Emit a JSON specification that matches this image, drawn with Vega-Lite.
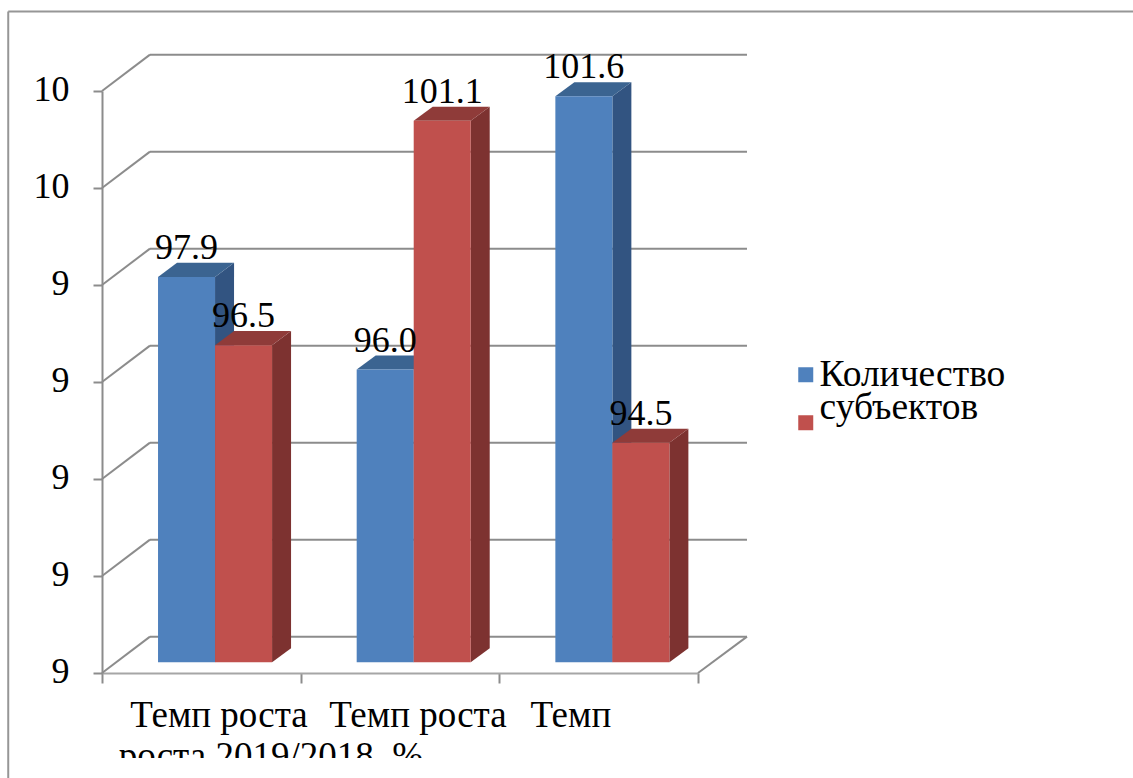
{
"$schema":"https://vega.github.io/schema/vega-lite/v6.json",
"width":596,"height":582,
"autosize":"none",
"padding":{"left":102,"top":91,"right":435,"bottom":105},
"background":"white",
"config":{"view":{"stroke":null},"axis":{"title":null,"grid":false}},
"datasets":{
"bars":[
{"category":0,"series":"Количество","value":97.9},
{"category":0,"series":"субъектов","value":96.5},
{"category":1,"series":"Количество","value":96.0},
{"category":1,"series":"субъектов","value":101.1},
{"category":2,"series":"Количество","value":101.6},
{"category":2,"series":"субъектов","value":94.5}
],
"ticks":[{"v":90},{"v":92},{"v":94},{"v":96},{"v":98},{"v":100},{"v":102}],
"cats":[
{"pos":0.589,"line":1,"label":"Темп роста"},
{"pos":1.59,"line":1,"label":"Темп роста"},
{"pos":2.36,"line":1,"label":"Темп"},
{"pos":0.85,"line":2,"label":"роста 2019/2018, %"}
]
},
"layer":[
{"data":{"values":[{}]},"mark":{"type":"rule","stroke":"#969696","strokeWidth":2},
 "encoding":{
 "x":{"datum":-0.472,"type":"quantitative","scale":{"domain":[0,3],"nice":false,"zero":false},
  "axis":{"values":[0,1,2,3],"title":null,"grid":false,"labels":false,"tickSize":10,"tickColor":"#8c8c8c","tickWidth":2,"domainColor":"#a6a6a6","domainWidth":2}},
 "y":{"datum":103.64,"type":"quantitative","scale":{"domain":[90,102],"nice":false,"zero":false},
  "axis":{"values":[90,92,94,96,98,100,102],"title":null,"grid":false,"labelExpr":"floor(datum.value/10)","labelFont":"Liberation Serif","labelFontSize":36,"labelColor":"black","labelPadding":24,"labelOffset":-2,"tickSize":9,"tickColor":"#8c8c8c","tickWidth":2,"domainColor":"#8c8c8c","domainWidth":2,"labelOverlap":false,"labelBound":false,"labelFlush":false}},
 "y2":{"datum":87.6}}},
{"data":{"values":[{}]},"mark":{"type":"rule","stroke":"#969696","strokeWidth":2},
 "encoding":{
 "x":{"datum":-0.472,"type":"quantitative"},
 "x2":{"datum":5.2},
 "y":{"datum":103.64,"type":"quantitative"}}},
{"data":{"name":"ticks"},"transform":[{"calculate":"datum.v+0.75","as":"vb"},{"calculate":"0.2416","as":"x0"},{"calculate":"3.2466","as":"x1"}],
 "mark":{"type":"rule","stroke":"#8c8c8c","strokeWidth":2},
 "encoding":{"x":{"field":"x0","type":"quantitative"},"x2":{"field":"x1"},"y":{"field":"vb","type":"quantitative"}}},
{"data":{"name":"ticks"},"transform":[{"calculate":"datum.v+0.75","as":"vb"},{"calculate":"0","as":"x0"},{"calculate":"0.2416","as":"x1"}],
 "mark":{"type":"rule","stroke":"#8c8c8c","strokeWidth":2},
 "encoding":{"x":{"field":"x0","type":"quantitative"},"x2":{"field":"x1"},"y":{"field":"v","type":"quantitative"},"y2":{"field":"vb"}}},
{"data":{"values":[{"a":3,"b":3.2466,"c":90,"d":90.75}]},
 "mark":{"type":"rule","stroke":"#8c8c8c","strokeWidth":2},
 "encoding":{"x":{"field":"a","type":"quantitative"},"x2":{"field":"b"},"y":{"field":"c","type":"quantitative"},"y2":{"field":"d"}}},
{"data":{"name":"bars"},
 "transform":[
 {"calculate":"[0,1]","as":"p"},{"flatten":["p"]},
 {"calculate":"datum.category+0.282+(datum.series=='субъектов'?0.287:0)+0.287+datum.p*0.0956","as":"xs"},
 {"calculate":"90.22+datum.p*0.29","as":"ybase"},
 {"calculate":"90.22+(datum.value-90)*1.006+datum.p*0.29","as":"ytop"},
 {"calculate":"datum.category+datum.series","as":"id"}],
 "mark":{"type":"area","orient":"vertical"},
 "encoding":{
 "x":{"field":"xs","type":"quantitative"},
 "y":{"field":"ytop","type":"quantitative","stack":null},
 "y2":{"field":"ybase"},
 "detail":{"field":"id"},
 "fill":{"condition":{"test":"datum.series=='Количество'","value":"#325481"},"value":"#7d3230"}}},
{"data":{"name":"bars"},
 "transform":[
 {"calculate":"[0,1]","as":"p"},{"flatten":["p"]},
 {"calculate":"datum.category+0.282+(datum.series=='субъектов'?0.287:0)+datum.p*0.0956","as":"x1"},
 {"calculate":"datum.x1+0.287","as":"x2"},
 {"calculate":"90.22+(datum.value-90)*1.006+datum.p*0.29","as":"ytop"},
 {"calculate":"datum.category+datum.series","as":"id"}],
 "mark":{"type":"area","orient":"horizontal"},
 "encoding":{
 "y":{"field":"ytop","type":"quantitative"},
 "x":{"field":"x1","type":"quantitative","stack":null},
 "x2":{"field":"x2"},
 "detail":{"field":"id"},
 "fill":{"condition":{"test":"datum.series=='Количество'","value":"#3b6491"},"value":"#8f3b39"}}},
{"data":{"name":"bars"},
 "transform":[
 {"calculate":"datum.category+0.282+(datum.series=='субъектов'?0.287:0)","as":"x1"},
 {"calculate":"datum.x1+0.287","as":"x2"},
 {"calculate":"90.22","as":"ybase"},
 {"calculate":"90.22+(datum.value-90)*1.006","as":"ytop"}],
 "mark":{"type":"rect"},
 "encoding":{
 "x":{"field":"x1","type":"quantitative"},
 "x2":{"field":"x2"},
 "y":{"field":"ytop","type":"quantitative"},
 "y2":{"field":"ybase"},
 "color":{"field":"series","type":"nominal","scale":{"domain":["Количество","субъектов"],"range":["#4f81bd","#c0504d"]},
 "legend":{"title":null,"orient":"none","legendX":685,"legendY":265,"symbolType":"square","symbolSize":225,"symbolOpacity":1,"labelFont":"Liberation Serif","labelFontSize":37.5,"labelColor":"black","labelOffset":-5,"rowPadding":-5,"labelLimit":300,"encode":{"labels":{"update":{"dy":{"signal":"datum.label=='субъектов'?-14.5:0"}}}}}}}},
{"data":{"name":"bars"},
 "transform":[
 {"calculate":"datum.category+0.282+(datum.series=='субъектов'?0.287:0)+0.1435","as":"xc"},
 {"calculate":"90.22+(datum.value-90)*1.006","as":"ytop"}],
 "mark":{"type":"text","font":"Liberation Serif","fontSize":36,"color":"black","dy":-18,"baseline":"alphabetic","align":"center"},
 "encoding":{
 "x":{"field":"xc","type":"quantitative"},
 "y":{"field":"ytop","type":"quantitative"},
 "text":{"field":"value","type":"quantitative","format":".1f"}}},
{"data":{"name":"cats"},
 "transform":[{"calculate":"datum.line==1?88.887:88.04","as":"yl"}],
 "mark":{"type":"text","font":"Liberation Serif","fontSize":37,"color":"black","baseline":"alphabetic","align":"center"},
 "encoding":{
 "x":{"field":"pos","type":"quantitative"},
 "y":{"field":"yl","type":"quantitative"},
 "text":{"field":"label"}}},
{"data":{"values":[{}]},"mark":{"type":"rect","fill":"white"},
 "encoding":{
 "x":{"datum":-0.4,"type":"quantitative"},"x2":{"datum":3.5},
 "y":{"datum":88.25,"type":"quantitative"},"y2":{"datum":87.6}}}
]
}
